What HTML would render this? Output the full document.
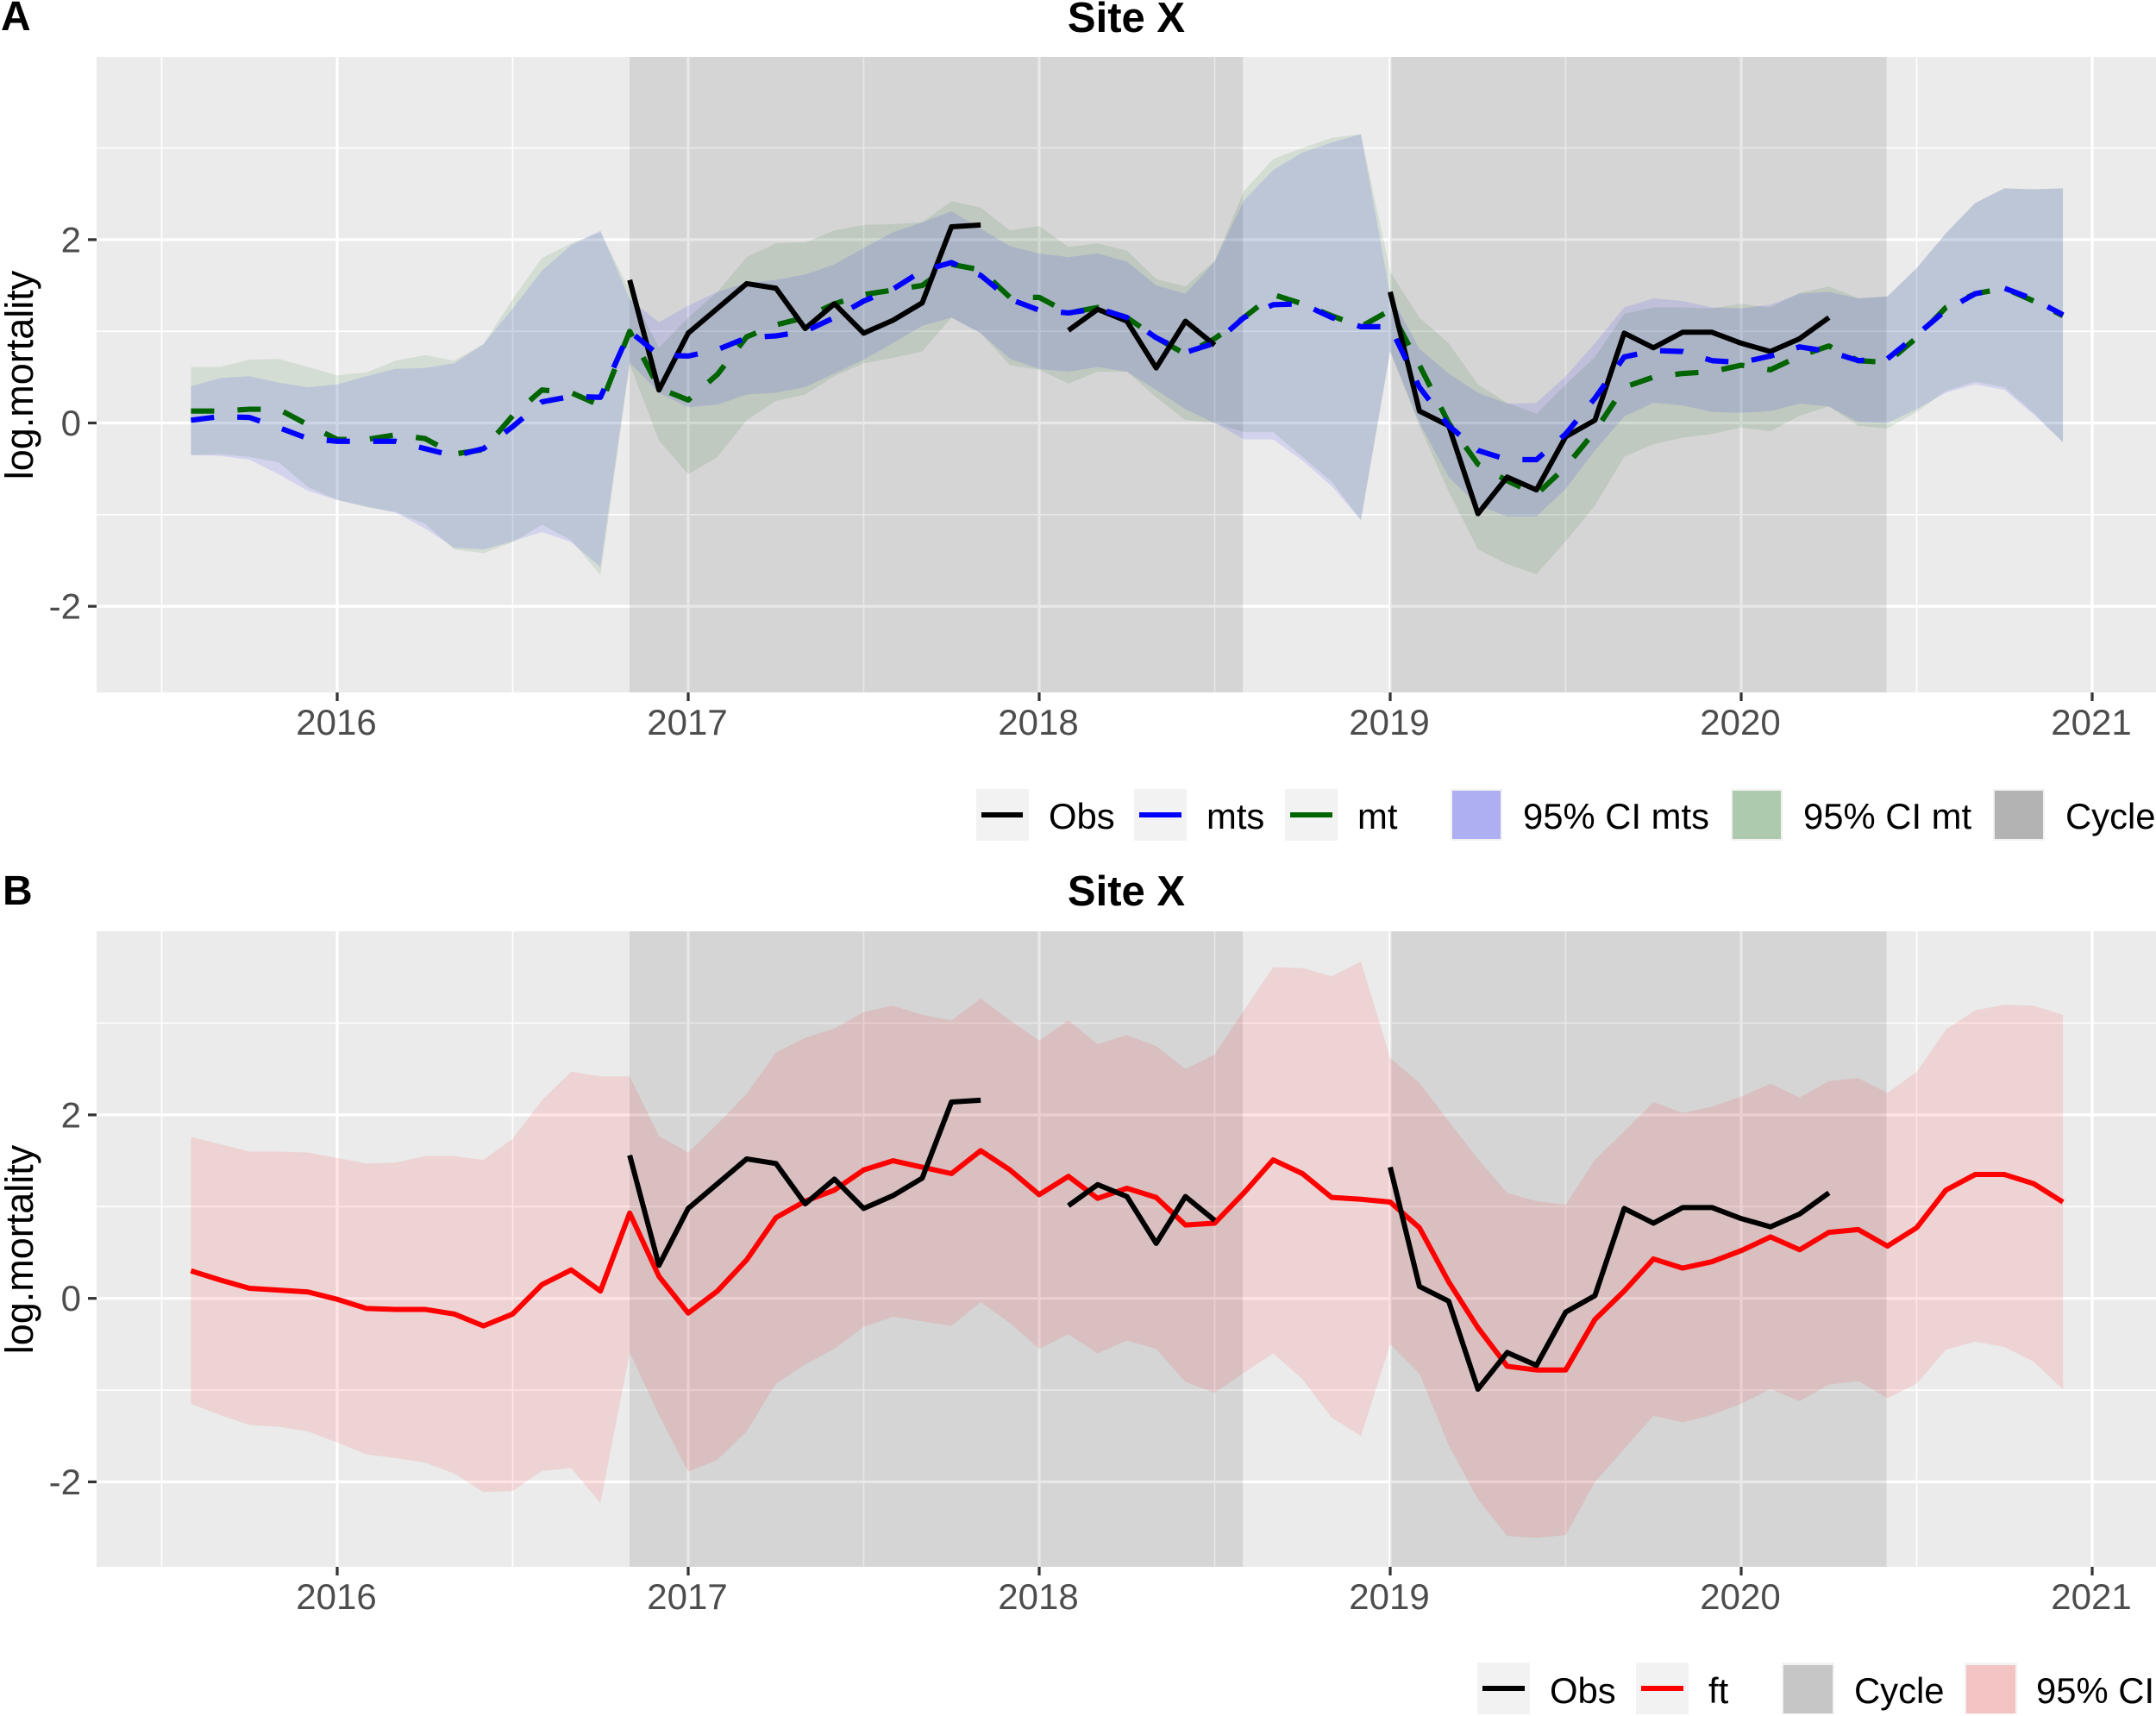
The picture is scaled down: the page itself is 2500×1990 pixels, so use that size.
<!DOCTYPE html>
<html lang="en">
<head>
<meta charset="utf-8">
<title>Site X log.mortality</title>
<style>
html,body{margin:0;padding:0;background:#fff;}
svg{display:block;font-family:"Liberation Sans",sans-serif;}
</style>
</head>
<body>
<svg id="chart" xmlns="http://www.w3.org/2000/svg" width="2500" height="1990" viewBox="0 0 2500 1990">
<rect x="0" y="0" width="2500" height="1990" fill="#ffffff"/>
<g id="panelA"></g>
<g id="panelB"></g>

<text x="1" y="35" font-size="48" font-weight="bold">A</text>
<text x="1306" y="37" font-size="49" font-weight="bold" text-anchor="middle">Site X</text>
<text transform="translate(38,435) rotate(-90)" font-size="45" text-anchor="middle">log.mortality</text>

<text x="3" y="1049" font-size="48" font-weight="bold">B</text>
<text x="1306" y="1050" font-size="49" font-weight="bold" text-anchor="middle">Site X</text>
<text transform="translate(38,1449) rotate(-90)" font-size="45" text-anchor="middle">log.mortality</text>

<g font-size="41.8" fill="#000">
  <g>
    <rect x="1132" y="915" width="61" height="60" fill="#f2f2f2"/>
    <line x1="1138" x2="1186" y1="945" y2="945" stroke="#000" stroke-width="6"/>
    <text x="1216" y="961">Obs</text>
  </g>
  <g>
    <rect x="1315" y="915" width="61" height="60" fill="#f2f2f2"/>
    <line x1="1321" x2="1370" y1="945" y2="945" stroke="#0000ff" stroke-width="6"/>
    <text x="1399" y="961">mts</text>
  </g>
  <g>
    <rect x="1490" y="915" width="61" height="60" fill="#f2f2f2"/>
    <line x1="1496" x2="1545" y1="945" y2="945" stroke="#006400" stroke-width="6"/>
    <text x="1574" y="961">mt</text>
  </g>
  <g>
    <rect x="1682" y="915" width="60" height="60" fill="#f2f2f2"/>
    <rect x="1684" y="917" width="56" height="56" fill="#aeaef2"/>
    <text x="1766" y="961">95% CI mts</text>
  </g>
  <g>
    <rect x="2007" y="915" width="60" height="60" fill="#f2f2f2"/>
    <rect x="2009" y="917" width="56" height="56" fill="#aecaae"/>
    <text x="2091" y="961">95% CI mt</text>
  </g>
  <g>
    <rect x="2311" y="915" width="60" height="60" fill="#f2f2f2"/>
    <rect x="2313" y="917" width="56" height="56" fill="#b3b3b3"/>
    <text x="2395" y="961">Cycle</text>
  </g>
</g>

<g font-size="41.8" fill="#000">
  <g>
    <rect x="1713" y="1928" width="61" height="60" fill="#f2f2f2"/>
    <line x1="1719" x2="1768" y1="1958" y2="1958" stroke="#000" stroke-width="6"/>
    <text x="1797" y="1975">Obs</text>
  </g>
  <g>
    <rect x="1897" y="1928" width="61" height="60" fill="#f2f2f2"/>
    <line x1="1903" x2="1952" y1="1958" y2="1958" stroke="#ff0000" stroke-width="6"/>
    <text x="1981" y="1975">ft</text>
  </g>
  <g>
    <rect x="2066" y="1928" width="61" height="60" fill="#f2f2f2"/>
    <rect x="2068" y="1931" width="57" height="56" fill="#c6c6c6"/>
    <text x="2150" y="1975">Cycle</text>
  </g>
  <g>
    <rect x="2278" y="1928" width="61" height="60" fill="#f2f2f2"/>
    <rect x="2280" y="1931" width="57" height="56" fill="#f4c4c4"/>
    <text x="2361" y="1975">95% CI</text>
  </g>
</g>
</svg>

<script>
// Data: monthly series from Aug 2015 (index 0) to Dec 2020 (index 64)
var startYear = 2015;
var startMonthOffset = 7;
var xTickYears = [2016, 2017, 2018, 2019, 2020, 2021];
var xMinorYears = [2015.5, 2016.5, 2017.5, 2018.5, 2019.5, 2020.5];
var yTickValues = [-2, 0, 2];
var yTickLabels = ["-2", "0", "2"];
var yMinorValues = [-1, 1, 3];
var cycleStarts = [2016.833, 2019];
var cycleEnds = [2018.58, 2020.414];

var obs = [null,null,null,null,null,null,null,null,null,null,null,null,null,null,null,
 1.56,0.36,0.98,1.25,1.52,1.47,1.03,1.30,0.98,1.12,1.31,2.14,2.16,
 null,null,1.01,1.24,1.11,0.60,1.11,0.85,
 null,null,null,null,null,
 1.43,0.13,-0.03,-0.99,-0.59,-0.73,-0.15,0.03,0.98,0.82,0.99,0.99,0.87,0.78,0.92,1.15,
 null,null,null,null,null,null,null,null];

var mts = [0.03,0.07,0.06,-0.05,-0.17,-0.20,-0.20,-0.20,-0.28,-0.36,-0.28,-0.04,0.23,0.29,0.28,1.00,0.74,0.73,
 0.80,0.93,0.95,1.00,1.15,1.33,1.46,1.66,1.75,1.61,1.35,1.23,1.20,1.25,1.15,0.93,0.77,0.87,1.15,1.29,1.30,1.15,1.05,1.05,
 0.39,-0.03,-0.30,-0.40,-0.40,-0.12,0.27,0.72,0.79,0.78,0.68,0.66,0.73,0.83,0.78,0.68,0.70,0.96,1.23,1.41,1.47,1.35,1.18];

var mt = [0.13,0.13,0.15,0.15,-0.02,-0.18,-0.18,-0.13,-0.17,-0.34,-0.29,0.08,0.36,0.33,0.19,1.00,0.38,0.25,
 0.53,0.94,1.07,1.15,1.30,1.40,1.45,1.50,1.73,1.67,1.37,1.37,1.20,1.26,1.15,0.93,0.75,0.92,1.15,1.40,1.30,1.17,1.05,1.23,
 0.63,0.00,-0.45,-0.63,-0.78,-0.48,-0.09,0.39,0.50,0.54,0.56,0.63,0.58,0.73,0.84,0.68,0.66,0.93,1.26,1.41,1.47,1.33,1.17];

var mtsUpper = [0.40,0.49,0.51,0.44,0.39,0.42,0.51,0.59,0.60,0.65,0.86,1.25,1.66,1.94,2.10,1.35,1.10,1.28,
 1.43,1.53,1.56,1.62,1.73,1.91,2.08,2.19,2.31,2.12,1.93,1.85,1.81,1.85,1.76,1.50,1.41,1.76,2.43,2.76,2.95,3.06,3.15,1.40,
 0.81,0.54,0.33,0.21,0.22,0.51,0.87,1.26,1.36,1.33,1.26,1.25,1.29,1.41,1.43,1.36,1.38,1.69,2.07,2.40,2.56,2.55,2.56];

var mtsLower = [-0.35,-0.36,-0.40,-0.56,-0.74,-0.84,-0.91,-0.98,-1.15,-1.36,-1.38,-1.29,-1.19,-1.30,-1.57,0.66,0.33,0.17,
 0.20,0.31,0.33,0.39,0.54,0.69,0.87,1.06,1.15,0.98,0.70,0.59,0.56,0.61,0.56,0.36,0.15,0.00,-0.18,-0.18,-0.41,-0.69,-1.06,0.78,
 0.00,-0.59,-0.90,-1.02,-1.02,-0.72,-0.30,0.07,0.22,0.19,0.12,0.11,0.13,0.21,0.18,0.01,0.00,0.15,0.33,0.42,0.36,0.09,-0.21];

var mtUpper = [0.61,0.61,0.69,0.70,0.61,0.52,0.55,0.68,0.74,0.68,0.86,1.35,1.80,1.96,2.08,1.45,0.82,1.15,
 1.43,1.81,1.96,1.97,2.10,2.16,2.17,2.19,2.42,2.35,2.10,2.15,1.92,1.96,1.88,1.57,1.49,1.77,2.53,2.88,3.00,3.11,3.15,1.65,
 1.15,0.87,0.42,0.22,0.10,0.42,0.72,1.19,1.26,1.26,1.25,1.30,1.26,1.42,1.49,1.36,1.38,1.69,2.07,2.40,2.56,2.55,2.56];

var mtLower = [-0.35,-0.34,-0.37,-0.43,-0.70,-0.84,-0.92,-0.97,-1.10,-1.38,-1.42,-1.30,-1.11,-1.28,-1.66,0.64,-0.19,-0.56,
 -0.37,0.03,0.24,0.31,0.51,0.65,0.71,0.78,1.15,0.98,0.63,0.58,0.43,0.56,0.56,0.28,0.03,0.00,-0.10,-0.10,-0.37,-0.64,-1.06,0.78,
 -0.03,-0.75,-1.38,-1.54,-1.65,-1.29,-0.90,-0.37,-0.23,-0.16,-0.12,-0.05,-0.09,0.08,0.18,-0.03,-0.06,0.12,0.35,0.45,0.39,0.11,-0.21];

var ft = [0.30,0.20,0.11,0.09,0.07,-0.01,-0.11,-0.12,-0.12,-0.17,-0.30,-0.17,0.15,0.31,0.08,0.93,0.24,-0.16,
 0.08,0.42,0.88,1.06,1.18,1.40,1.50,1.43,1.36,1.61,1.40,1.13,1.33,1.09,1.20,1.10,0.80,0.82,1.15,1.51,1.36,1.10,1.08,1.05,
 0.77,0.18,-0.32,-0.74,-0.78,-0.78,-0.23,0.08,0.43,0.33,0.40,0.52,0.67,0.53,0.72,0.75,0.57,0.77,1.18,1.35,1.35,1.25,1.05];

var ftUpper = [1.76,1.68,1.60,1.60,1.59,1.53,1.47,1.48,1.55,1.55,1.51,1.74,2.16,2.47,2.42,2.42,1.77,1.59,
 1.90,2.23,2.68,2.84,2.94,3.12,3.19,3.09,3.03,3.27,3.03,2.81,3.03,2.77,2.87,2.75,2.50,2.66,3.14,3.61,3.60,3.51,3.67,2.62,
 2.35,1.93,1.52,1.15,1.06,1.02,1.51,1.82,2.14,2.02,2.09,2.20,2.34,2.19,2.37,2.40,2.24,2.47,2.93,3.14,3.20,3.19,3.09];

var ftLower = [-1.15,-1.27,-1.38,-1.40,-1.45,-1.57,-1.70,-1.74,-1.79,-1.91,-2.11,-2.10,-1.88,-1.85,-2.23,-0.59,-1.27,-1.89,
 -1.76,-1.45,-0.93,-0.72,-0.55,-0.31,-0.20,-0.25,-0.30,-0.04,-0.27,-0.55,-0.39,-0.60,-0.46,-0.55,-0.91,-1.03,-0.81,-0.60,-0.88,-1.30,-1.50,-0.50,
 -0.82,-1.60,-2.19,-2.59,-2.61,-2.58,-2.00,-1.64,-1.28,-1.35,-1.27,-1.15,-0.99,-1.12,-0.94,-0.90,-1.09,-0.93,-0.56,-0.47,-0.53,-0.69,-0.99];

var NS = 'http://www.w3.org/2000/svg';

function xOfYear(t) { return 391 + (t - 2016) * 407; }
function yearOfIndex(i) { return startYear + (startMonthOffset + i) / 12; }
function xOfIndex(i) { return xOfYear(yearOfIndex(i)); }

function mk(parent, tag, attrs) {
  var el = document.createElementNS(NS, tag);
  for (var k in attrs) { el.setAttribute(k, attrs[k]); }
  parent.appendChild(el);
  return el;
}

function ribbonPath(upper, lower, yScale) {
  var d = '';
  for (var i = 0; i < upper.length; i++) {
    d += (i === 0 ? 'M' : 'L') + xOfIndex(i).toFixed(2) + ' ' + yScale(upper[i]).toFixed(2);
  }
  for (var j = lower.length - 1; j >= 0; j--) {
    d += 'L' + xOfIndex(j).toFixed(2) + ' ' + yScale(lower[j]).toFixed(2);
  }
  return d + 'Z';
}

function linePath(values, yScale) {
  var d = '';
  var pen = false;
  for (var i = 0; i < values.length; i++) {
    if (values[i] === null) { pen = false; continue; }
    d += (pen ? 'L' : 'M') + xOfIndex(i).toFixed(2) + ' ' + yScale(values[i]).toFixed(2);
    pen = true;
  }
  return d;
}

function drawFrame(g, top, bottom, yScale, prefix) {
  var left = 112;
  var right = 2500;
  var bg = mk(g, 'rect', {x: left, y: top, width: right - left, height: bottom - top, fill: '#ebebeb'});
  
  

  yMinorValues.forEach(function (v) {
    var l = mk(g, 'line', {x1: left, x2: right, y1: yScale(v), y2: yScale(v), stroke: '#fff', 'stroke-width': 1.6});
    
    
  });
  xMinorYears.forEach(function (t) {
    var l = mk(g, 'line', {x1: xOfYear(t), x2: xOfYear(t), y1: top, y2: bottom, stroke: '#fff', 'stroke-width': 1.6});
    
    
  });
  yTickValues.forEach(function (v, idx) {
    var y = yScale(v);
    var l = mk(g, 'line', {x1: left, x2: right, y1: y, y2: y, stroke: '#fff', 'stroke-width': 3.2});
    
    
    var tick = mk(g, 'line', {x1: 102, x2: left, y1: y, y2: y, stroke: '#333', 'stroke-width': 3.2});
    
    
    var txt = mk(g, 'text', {x: 94, y: y + 14.5, 'text-anchor': 'end', 'font-size': 42, fill: '#4d4d4d'});
    
    
    txt.textContent = yTickLabels[idx];
  });
  xTickYears.forEach(function (t) {
    var x = xOfYear(t);
    var l = mk(g, 'line', {x1: x, x2: x, y1: top, y2: bottom, stroke: '#fff', 'stroke-width': 3.2});
    
    
    var tick = mk(g, 'line', {x1: x, x2: x, y1: bottom, y2: bottom + 10, stroke: '#333', 'stroke-width': 3.2});
    
    
    var txt = mk(g, 'text', {x: x - 1, y: bottom + 49, 'text-anchor': 'middle', 'font-size': 42, fill: '#4d4d4d'});
    
    
    txt.textContent = String(t);
  });
  cycleStarts.forEach(function (s, idx) {
    var x0 = xOfYear(s);
    var x1 = xOfYear(cycleEnds[idx]);
    var r = mk(g, 'rect', {x: x0, y: top, width: x1 - x0, height: bottom - top, fill: '#000', 'fill-opacity': 0.09});
    
    
  });
}

// Panel A
var yA = function (v) { return 490.5 - v * 106.3; };
var gA = document.getElementById('panelA');
drawFrame(gA, 66, 803, yA, 'panel-a');

var ribbonMt = mk(gA, 'path', {d: ribbonPath(mtUpper, mtLower, yA), fill: '#006400', 'fill-opacity': 0.1});



var ribbonMts = mk(gA, 'path', {d: ribbonPath(mtsUpper, mtsLower, yA), fill: '#0000ff', 'fill-opacity': 0.1});



var lineMt = mk(gA, 'path', {d: linePath(mt, yA), fill: 'none', stroke: '#006400', 'stroke-width': 6.2, 'stroke-dasharray': '27 27', 'stroke-linejoin': 'round'});



var lineObsA = mk(gA, 'path', {d: linePath(obs, yA), fill: 'none', stroke: '#000', 'stroke-width': 6, 'stroke-linejoin': 'round'});



var lineMts = mk(gA, 'path', {d: linePath(mts, yA), fill: 'none', stroke: '#0000ff', 'stroke-width': 6.2, 'stroke-dasharray': '27 27', 'stroke-linejoin': 'round'});



// Panel B
var yB = function (v) { return 1505.7 - v * 106.4; };
var gB = document.getElementById('panelB');
drawFrame(gB, 1080, 1817, yB, 'panel-b');

var ribbonFt = mk(gB, 'path', {d: ribbonPath(ftUpper, ftLower, yB), fill: '#ff0000', 'fill-opacity': 0.1});



var lineFt = mk(gB, 'path', {d: linePath(ft, yB), fill: 'none', stroke: '#ff0000', 'stroke-width': 6, 'stroke-linejoin': 'round'});



var lineObsB = mk(gB, 'path', {d: linePath(obs, yB), fill: 'none', stroke: '#000', 'stroke-width': 6, 'stroke-linejoin': 'round'});


</script>
</body>
</html>
